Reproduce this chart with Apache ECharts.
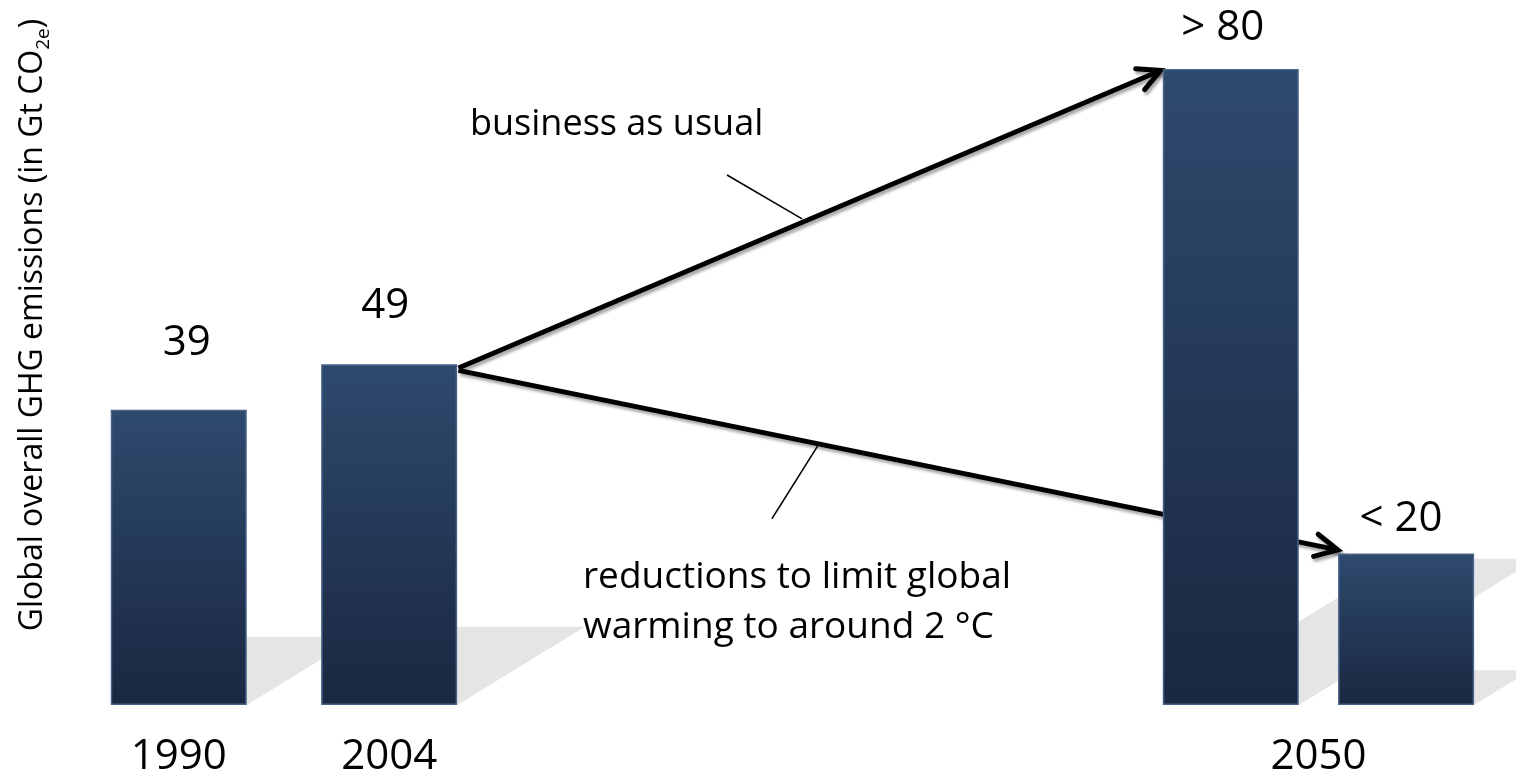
<!DOCTYPE html>
<html>
<head>
<meta charset="utf-8">
<script src="https://cdn.jsdelivr.net/npm/echarts@6/dist/echarts.min.js"></script>
<style>
  html, body { margin: 0; padding: 0; background: #ffffff; }
  #chart { width: 1516px; height: 772px; }
</style>
</head>
<body>
<div id="chart"></div>
<script>
// ---------- data ----------
const slotCount = 75;                       // category slots along the x axis
const yearLabels = ['1990', '2004', '2050']; // tick labels
const yearSlots = [0, 12, 65];              // slot of each tick label
const barSlots = [0, 12, 60, 70];           // slot of each bar
const barValues = [39, 45, 84, 20];         // bar heights (Gt CO2e)
const barLabels = ['39', '49', '> 80', '< 20'];
// arrows: [x1, y1, x2, y2] in (slot, value) units
const arrowLines = [
  [15.95, 44.5, 56.0, 83.8],   // business as usual
  [15.95, 44.2, 66.1, 20.5]    // reductions
];
// thin leader lines: [x1, y1, x2, y2]
const leaderLines = [
  [31.27, 70.0, 35.55, 64.2],
  [36.46, 34.3, 33.83, 24.6]
];
const yTitle = 'Global overall GHG emissions (in Gt CO{sub|2e})';
const noteBAU = 'business as usual';
const noteReduction = 'reductions to limit global\nwarming to around 2 °C';

// ---------- build ----------
const FONT = '"Open Sans", "Noto Sans", sans-serif';
const categories = Array(slotCount).fill('');
yearSlots.forEach((s, i) => { categories[s] = yearLabels[i]; });

const labelDist = [45, 36, 19, 13];
const labelDx = [8, -4, -8, -5];
const barData = Array(slotCount).fill('-');
barSlots.forEach((s, i) => {
  barData[s] = {
    value: barValues[i],
    label: { formatter: barLabels[i], distance: labelDist[i], offset: [labelDx[i], 0] }
  };
});
const shadowData = barSlots.map((s, i) => [s, barValues[i]]);
const BAR_W = 136;

const arrowStyle = {
  stroke: '#000', lineWidth: 4.8,
  shadowColor: 'rgba(0,0,0,0.35)', shadowBlur: 3, shadowOffsetX: 2, shadowOffsetY: 3
};

const chart = echarts.init(document.getElementById('chart'));
chart.setOption({
  backgroundColor: '#ffffff',
  animation: false,
  grid: { left: 170, right: 31, top: 69, bottom: 67, containLabel: false, outerBoundsMode: 'none' },
  xAxis: [
    {
      type: 'category', data: categories, boundaryGap: true,
      axisLine: { show: false }, axisTick: { show: false }, splitLine: { show: false },
      axisLabel: { interval: 0, margin: 30, fontSize: 42, lineHeight: 44, color: '#000', fontFamily: FONT }
    },
    { type: 'value', min: -0.5, max: slotCount - 0.5, show: false }
  ],
  yAxis: { type: 'value', min: 0, max: 84, show: false },
  graphic: [
    {
      type: 'text', x: 33, y: 325, rotation: Math.PI / 2,
      style: {
        text: yTitle, fill: '#000', fontSize: 32, fontFamily: FONT, lineHeight: 40,
        align: 'center', verticalAlign: 'middle',
        rich: { sub: { fontSize: 19, lineHeight: 19, verticalAlign: 'bottom', fontFamily: FONT, fill: '#000' } }
      }
    },
    {
      type: 'text', x: 470, y: 125,
      style: { text: noteBAU, fill: '#000', fontSize: 36, fontFamily: FONT, align: 'left', verticalAlign: 'middle' }
    },
    {
      type: 'text', x: 583, y: 602,
      style: { text: noteReduction, fill: '#000', fontSize: 37, lineHeight: 50, fontFamily: FONT, align: 'left', verticalAlign: 'middle' }
    }
  ],
  series: [
    {
      type: 'custom', name: 'shadow', xAxisIndex: 0, yAxisIndex: 0, z: 1, clip: false,
      data: shadowData,
      renderItem: function (params, api) {
        const base = api.coord([api.value(0), 0]);
        const top = api.coord([api.value(0), api.value(1)]);
        const H = base[1] - top[1];
        const dx = 0.375 * H, dy = 0.23 * H, h = BAR_W / 2;
        return {
          type: 'polygon',
          shape: { points: [[base[0] - h, base[1]], [base[0] + h, base[1]], [base[0] + h + dx, base[1] - dy], [base[0] - h + dx, base[1] - dy]] },
          style: { fill: '#e5e5e5' }
        };
      }
    },
    {
      type: 'custom', name: 'arrows', xAxisIndex: 1, yAxisIndex: 0, z: 2, clip: false,
      encode: { x: [0, 2], y: [1, 3] },
      data: arrowLines,
      renderItem: function (params, api) {
        const p1 = api.coord([api.value(0), api.value(1)]);
        const p2 = api.coord([api.value(2), api.value(3)]);
        const ang = Math.atan2(p1[1] - p2[1], p1[0] - p2[0]);
        const L = 25, ha = 27 * Math.PI / 180;
        const a1 = [p2[0] + L * Math.cos(ang + ha), p2[1] + L * Math.sin(ang + ha)];
        const a2 = [p2[0] + L * Math.cos(ang - ha), p2[1] + L * Math.sin(ang - ha)];
        return {
          type: 'group',
          children: [
            { type: 'line', shape: { x1: p1[0], y1: p1[1], x2: p2[0], y2: p2[1] }, style: Object.assign({}, arrowStyle) },
            { type: 'polyline', shape: { points: [a1, p2, a2] }, style: Object.assign({ fill: null, lineCap: 'round', lineJoin: 'miter' }, arrowStyle, { lineWidth: 5 }) }
          ]
        };
      }
    },
    {
      type: 'custom', name: 'leaders', xAxisIndex: 1, yAxisIndex: 0, z: 2, clip: false,
      encode: { x: [0, 2], y: [1, 3] },
      data: leaderLines,
      renderItem: function (params, api) {
        const p1 = api.coord([api.value(0), api.value(1)]);
        const p2 = api.coord([api.value(2), api.value(3)]);
        return { type: 'line', shape: { x1: p1[0], y1: p1[1], x2: p2[0], y2: p2[1] }, style: { stroke: '#000', lineWidth: 1.5 } };
      }
    },
    {
      type: 'bar', name: 'emissions', xAxisIndex: 0, yAxisIndex: 0, z: 3, clip: false,
      barWidth: BAR_W,
      data: barData,
      itemStyle: {
        color: new echarts.graphic.LinearGradient(0, 0, 0, 1, [
          { offset: 0, color: '#2e4a6e' },
          { offset: 1, color: '#1a2740' }
        ]),
        borderColor: '#48628a', borderWidth: 1.5
      },
      label: { show: true, position: 'top', fontSize: 42, lineHeight: 44, color: '#000', fontFamily: FONT }
    }
  ]
});
</script>
</body>
</html>
